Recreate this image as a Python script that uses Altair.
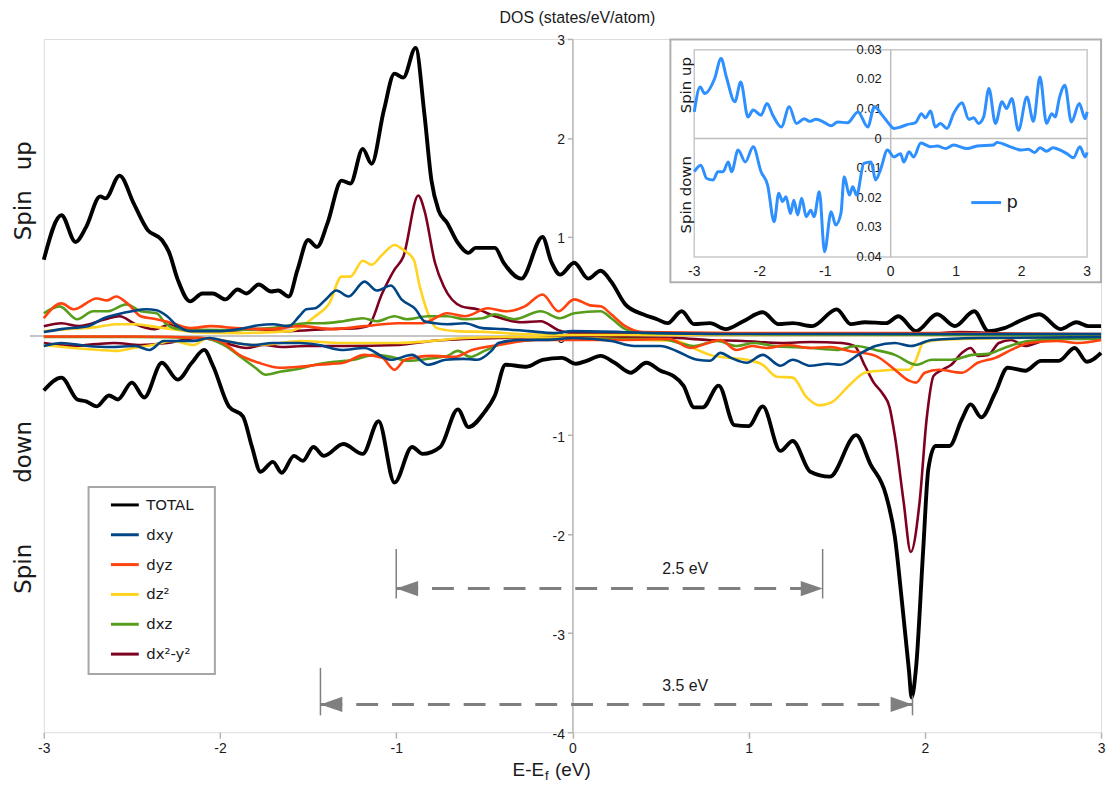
import altair as alt
import pandas as pd

# ---------------- main DOS data (x in eV, y in states/eV/atom) ----------------
TOTAL_UP = [(-3.00,0.77),(-2.90,1.22),(-2.82,0.95),(-2.76,1.10),(-2.68,1.41),(-2.65,1.39),(-2.57,1.62),(-2.49,1.34),
            (-2.41,1.07),(-2.33,0.97),(-2.29,0.85),(-2.24,0.57),(-2.17,0.35),(-2.10,0.43),(-2.04,0.43),(-1.97,0.37),
            (-1.90,0.47),(-1.85,0.43),(-1.78,0.52),(-1.71,0.45),(-1.67,0.46),(-1.61,0.40),(-1.56,0.67),(-1.50,0.97),
            (-1.45,0.90),(-1.39,1.14),(-1.31,1.57),(-1.26,1.54),(-1.19,1.89),(-1.14,1.74),(-1.07,2.28),(-1.01,2.65),
            (-0.96,2.61),(-0.89,2.91),(-0.84,2.24),(-0.80,1.57),(-0.76,1.27),(-0.71,1.14),(-0.65,0.94),(-0.59,0.84),
            (-0.55,0.89),(-0.44,0.89),(-0.39,0.74),(-0.29,0.58),(-0.17,1.00),(-0.12,0.75),(-0.07,0.62),(0.01,0.74),
            (0.09,0.58),(0.16,0.66),(0.22,0.55),(0.30,0.32),(0.40,0.22),(0.48,0.17),(0.54,0.13),(0.62,0.25),(0.69,0.12),
            (0.78,0.13),(0.87,0.07),(0.97,0.15),(1.08,0.24),(1.17,0.12),(1.25,0.13),(1.36,0.10),(1.50,0.27),(1.58,0.12),
            (1.66,0.14),(1.78,0.13),(1.85,0.20),(1.95,0.05),(2.07,0.22),(2.17,0.10),(2.28,0.25),(2.36,0.05),(2.45,0.08),
            (2.56,0.17),(2.65,0.22),(2.77,0.07),(2.86,0.14),(2.93,0.10),(3.00,0.10)]
TOTAL_DN = [(-3.00,-0.55),(-2.90,-0.42),(-2.81,-0.64),(-2.76,-0.66),(-2.70,-0.71),(-2.63,-0.60),(-2.58,-0.64),(-2.50,-0.47),
            (-2.43,-0.62),(-2.33,-0.27),(-2.24,-0.44),(-2.16,-0.27),(-2.09,-0.14),(-2.04,-0.30),(-1.95,-0.71),(-1.87,-0.81),
            (-1.82,-1.11),(-1.77,-1.37),(-1.70,-1.27),(-1.65,-1.38),(-1.58,-1.21),(-1.53,-1.26),(-1.47,-1.12),(-1.41,-1.21),
            (-1.30,-1.09),(-1.19,-1.19),(-1.10,-0.86),(-1.01,-1.48),(-0.91,-1.12),(-0.85,-1.19),(-0.75,-1.12),(-0.65,-0.74),
            (-0.59,-0.92),(-0.50,-0.77),(-0.44,-0.60),(-0.38,-0.29),(-0.26,-0.31),(-0.17,-0.24),(-0.06,-0.22),(0.02,-0.28),
            (0.08,-0.25),(0.16,-0.20),(0.24,-0.27),(0.33,-0.37),(0.42,-0.27),(0.50,-0.35),(0.57,-0.40),(0.63,-0.50),
            (0.69,-0.72),(0.74,-0.72),(0.83,-0.50),(0.92,-0.90),(1.00,-0.91),(1.08,-0.71),(1.18,-1.16),(1.25,-1.06),
            (1.35,-1.37),(1.46,-1.42),(1.61,-1.00),(1.69,-1.29),(1.78,-1.61),(1.83,-2.03),(1.87,-2.68),(1.91,-3.38),
            (1.925,-3.65),(1.95,-3.35),(1.99,-2.18),(2.02,-1.34),(2.06,-1.11),(2.14,-1.11),(2.21,-0.84),(2.26,-0.69),
            (2.32,-0.82),(2.40,-0.57),(2.47,-0.32),(2.57,-0.35),(2.66,-0.25),(2.76,-0.25),(2.85,-0.12),(2.92,-0.26),(3.00,-0.17)]
DXY_UP = [(-3.00,0.04),(-2.90,0.07),(-2.75,0.10),(-2.66,0.18),(-2.58,0.22),(-2.50,0.25),(-2.42,0.27),(-2.36,0.26),
          (-2.30,0.20),(-2.24,0.10),(-2.17,0.05),(-2.00,0.05),(-1.86,0.08),(-1.78,0.11),(-1.70,0.12),(-1.61,0.10),
          (-1.55,0.20),(-1.51,0.27),(-1.46,0.28),(-1.40,0.37),(-1.34,0.46),(-1.27,0.40),(-1.18,0.55),(-1.11,0.46),
          (-1.03,0.51),(-0.97,0.37),(-0.89,0.27),(-0.84,0.15),(-0.78,0.13),(-0.71,0.12),(-0.61,0.13),(-0.51,0.08),
          (-0.39,0.07),(-0.25,0.05),(-0.10,0.03),(0.00,0.05),(0.50,0.03),(1.00,0.02),(1.50,0.02),(2.00,0.02),(3.00,0.02)]
DXY_DN = [(-3.00,-0.10),(-2.90,-0.07),(-2.75,-0.10),(-2.62,-0.11),(-2.48,-0.10),(-2.40,-0.14),(-2.32,-0.05),(-2.15,-0.05),
          (-2.06,-0.02),(-1.97,-0.05),(-1.81,-0.09),(-1.70,-0.07),(-1.55,-0.07),(-1.44,-0.09),(-1.31,-0.14),(-1.18,-0.12),
          (-1.03,-0.24),(-0.91,-0.19),(-0.82,-0.29),(-0.72,-0.24),(-0.62,-0.23),(-0.54,-0.24),(-0.46,-0.15),(-0.42,-0.07),
          (-0.30,-0.04),(-0.15,-0.04),(0.00,-0.02),(0.22,-0.05),(0.35,-0.10),(0.50,-0.10),(0.59,-0.15),(0.71,-0.24),
          (0.78,-0.25),(0.84,-0.17),(0.90,-0.22),(0.99,-0.27),(1.08,-0.19),(1.18,-0.30),(1.25,-0.24),(1.35,-0.30),
          (1.45,-0.28),(1.52,-0.29),(1.63,-0.18),(1.72,-0.10),(1.83,-0.07),(1.92,-0.10),(2.04,-0.04),(2.30,-0.02),(3.00,-0.01)]
DYZ_UP = [(-3.00,0.18),(-2.90,0.33),(-2.83,0.27),(-2.70,0.38),(-2.64,0.36),(-2.59,0.40),(-2.52,0.32),(-2.45,0.20),
          (-2.36,0.17),(-2.27,0.13),(-2.17,0.08),(-2.05,0.10),(-1.91,0.08),(-1.71,0.07),(-1.55,0.10),(-1.36,0.07),
          (-1.18,0.10),(-0.99,0.13),(-0.85,0.13),(-0.71,0.23),(-0.61,0.20),(-0.48,0.28),(-0.38,0.25),(-0.27,0.30),
          (-0.17,0.42),(-0.08,0.25),(0.01,0.37),(0.10,0.31),(0.16,0.30),(0.22,0.22),(0.30,0.10),(0.40,0.04),
          (1.00,0.03),(2.00,0.03),(3.00,0.02)]
DYZ_DN = [(-3.00,-0.005),(-2.50,-0.005),(-2.10,-0.02),(-2.00,-0.05),(-1.89,-0.19),(-1.78,-0.27),(-1.66,-0.32),(-1.55,-0.31),
          (-1.44,-0.29),(-1.30,-0.27),(-1.18,-0.19),(-1.08,-0.22),(-1.01,-0.34),(-0.95,-0.24),(-0.80,-0.20),(-0.67,-0.21),
          (-0.57,-0.14),(-0.42,-0.09),(-0.20,-0.04),(0.00,-0.04),(0.28,-0.04),(0.55,-0.03),(0.67,-0.12),(0.77,-0.07),
          (0.84,-0.04),(0.93,-0.14),(1.02,-0.10),(1.10,-0.12),(1.22,-0.09),(1.35,-0.12),(1.46,-0.11),(1.57,-0.15),
          (1.72,-0.20),(1.83,-0.34),(1.91,-0.45),(1.95,-0.47),(2.00,-0.37),(2.08,-0.34),(2.21,-0.37),(2.30,-0.27),
          (2.40,-0.22),(2.49,-0.14),(2.59,-0.07),(2.75,-0.05),(2.87,-0.07),(3.00,-0.04)]
DZ2_UP = [(-3.00,0.05),(-2.86,0.07),(-2.70,0.09),(-2.59,0.12),(-2.48,0.12),(-2.36,0.09),(-2.27,0.07),(-2.15,0.04),
          (-1.90,0.03),(-1.61,0.05),(-1.46,0.20),(-1.38,0.33),(-1.31,0.60),(-1.26,0.60),(-1.19,0.76),(-1.14,0.72),
          (-1.08,0.82),(-1.01,0.92),(-0.96,0.87),(-0.90,0.77),(-0.87,0.53),(-0.82,0.23),(-0.77,0.08),(-0.66,0.05),
          (-0.47,0.04),(-0.30,0.02),(0.00,0.01),(1.00,0.01),(2.00,0.01),(3.00,0.01)]
DZ2_DN = [(-3.00,-0.09),(-2.83,-0.12),(-2.68,-0.14),(-2.59,-0.15),(-2.49,-0.12),(-2.38,-0.09),(-2.27,-0.05),(-2.15,-0.09),
          (-2.07,-0.02),(-1.97,-0.05),(-1.81,-0.09),(-1.70,-0.08),(-1.55,-0.05),(-1.30,-0.07),(-0.99,-0.07),(-0.80,-0.05),
          (-0.61,-0.02),(-0.30,-0.01),(0.00,-0.02),(0.40,-0.04),(0.59,-0.05),(0.71,-0.14),(0.78,-0.19),(0.89,-0.22),
          (0.99,-0.24),(1.08,-0.29),(1.16,-0.41),(1.25,-0.42),(1.33,-0.62),(1.40,-0.70),(1.47,-0.67),(1.57,-0.50),
          (1.66,-0.37),(1.75,-0.35),(1.83,-0.34),(1.91,-0.34),(1.95,-0.24),(1.99,-0.07),(2.08,-0.04),(2.50,-0.02),(3.00,-0.01)]
DXZ_UP = [(-3.00,0.23),(-2.91,0.30),(-2.81,0.17),(-2.72,0.25),(-2.64,0.25),(-2.53,0.32),(-2.45,0.25),(-2.36,0.23),
          (-2.31,0.13),(-2.23,0.07),(-2.00,0.06),(-1.71,0.08),(-1.51,0.13),(-1.42,0.13),(-1.30,0.15),(-1.19,0.18),
          (-1.11,0.15),(-1.01,0.20),(-0.94,0.17),(-0.82,0.20),(-0.71,0.20),(-0.61,0.17),(-0.51,0.18),(-0.44,0.22),
          (-0.33,0.17),(-0.18,0.25),(-0.07,0.18),(0.01,0.23),(0.16,0.25),(0.22,0.18),(0.30,0.07),(0.40,0.03),
          (1.00,0.02),(3.00,0.01)]
DXZ_DN = [(-3.00,-0.01),(-2.50,-0.01),(-2.10,-0.02),(-1.98,-0.09),(-1.89,-0.20),(-1.80,-0.32),(-1.74,-0.39),(-1.66,-0.36),
          (-1.55,-0.33),(-1.46,-0.29),(-1.35,-0.26),(-1.24,-0.24),(-1.13,-0.19),(-1.03,-0.21),(-0.93,-0.25),(-0.82,-0.23),
          (-0.71,-0.20),(-0.65,-0.15),(-0.58,-0.21),(-0.50,-0.15),(-0.42,-0.09),(-0.30,-0.05),(-0.10,-0.03),(0.20,-0.03),
          (0.50,-0.03),(0.69,-0.10),(0.82,-0.05),(0.93,-0.10),(1.03,-0.07),(1.14,-0.10),(1.35,-0.12),(1.50,-0.14),
          (1.61,-0.10),(1.72,-0.14),(1.83,-0.19),(1.95,-0.29),(2.04,-0.24),(2.15,-0.24),(2.27,-0.19),(2.36,-0.18),
          (2.45,-0.12),(2.59,-0.05),(2.80,-0.03),(3.00,-0.03)]
DX2Y2_UP = [(-3.00,0.10),(-2.90,0.13),(-2.80,0.10),(-2.65,0.17),(-2.57,0.20),(-2.48,0.12),(-2.37,0.07),(-2.28,0.12),
            (-2.21,0.06),(-2.00,0.05),(-1.80,0.07),(-1.61,0.05),(-1.40,0.07),(-1.22,0.08),(-1.16,0.10),(-1.08,0.43),
            (-1.01,0.67),(-0.96,0.80),(-0.875,1.42),(-0.84,1.27),(-0.78,0.74),(-0.73,0.50),(-0.63,0.30),(-0.54,0.27),
            (-0.44,0.20),(-0.29,0.14),(-0.18,0.15),(-0.08,0.06),(0.00,0.03),(0.50,0.02),(1.00,0.02),(1.50,0.02),
            (2.00,0.02),(2.20,0.04),(2.50,0.02),(3.00,0.01)]
DX2Y2_DN = [(-3.00,-0.07),(-2.83,-0.10),(-2.70,-0.08),(-2.60,-0.07),(-2.45,-0.09),(-2.30,-0.07),(-2.13,-0.02),(-2.06,-0.03),
            (-1.97,-0.07),(-1.85,-0.12),(-1.75,-0.09),(-1.65,-0.11),(-1.51,-0.10),(-1.30,-0.10),(-0.99,-0.09),(-0.80,-0.05),
            (-0.42,-0.02),(0.00,-0.01),(0.59,-0.02),(0.77,-0.04),(0.97,-0.05),(1.19,-0.07),(1.35,-0.06),(1.53,-0.07),
            (1.60,-0.10),(1.66,-0.30),(1.71,-0.47),(1.76,-0.58),(1.80,-0.72),(1.83,-1.01),(1.88,-1.68),(1.92,-2.18),
            (1.97,-1.68),(2.01,-0.84),(2.05,-0.40),(2.10,-0.34),(2.15,-0.29),(2.21,-0.17),(2.26,-0.12),(2.30,-0.20),
            (2.36,-0.19),(2.42,-0.07),(2.49,-0.04),(2.57,-0.10),(2.65,-0.06),(2.77,-0.02),(3.00,-0.01)]

# ---------------- inset: p orbital ----------------
P_UP = [(-3.00,0.0090),(-2.91,0.0174),(-2.84,0.0152),(-2.69,0.0202),(-2.59,0.0270),(-2.51,0.0208),(-2.38,0.0124),
        (-2.29,0.0191),(-2.18,0.0073),(-2.10,0.0096),(-1.98,0.0079),(-1.89,0.0118),(-1.80,0.0079),(-1.67,0.0039),
        (-1.55,0.0107),(-1.44,0.0051),(-1.32,0.0067),(-1.24,0.0058),(-1.14,0.0065),(-1.01,0.0054),(-0.91,0.0043),
        (-0.81,0.0056),(-0.66,0.0053),(-0.50,0.0090),(-0.35,0.0039),(-0.25,0.0107),(-0.13,0.0079),(-0.03,0.0051),
        (0.05,0.0034),(0.15,0.0039),(0.25,0.0047),(0.38,0.0054),(0.47,0.0084),(0.53,0.0070),(0.61,0.0093),(0.68,0.0039),
        (0.76,0.0051),(0.86,0.0034),(0.96,0.0084),(1.09,0.0121),(1.19,0.0065),(1.27,0.0070),(1.34,0.0051),(1.42,0.0073),
        (1.50,0.0169),(1.60,0.0051),(1.70,0.0124),(1.77,0.0101),(1.85,0.0135),(1.95,0.0028),(2.08,0.0140),(2.18,0.0058),
        (2.28,0.0208),(2.38,0.0051),(2.46,0.0084),(2.51,0.0073),(2.58,0.0140),(2.66,0.0180),(2.76,0.0056),(2.88,0.0118),
        (2.97,0.0067),(3.00,0.0090)]
P_DN = [(-3.00,-0.0112),(-2.90,-0.0090),(-2.81,-0.0135),(-2.71,-0.0140),(-2.64,-0.0112),(-2.56,-0.0112),(-2.48,-0.0079),
        (-2.43,-0.0112),(-2.33,-0.0039),(-2.22,-0.0079),(-2.10,-0.0028),(-1.98,-0.0112),(-1.88,-0.0157),(-1.78,-0.0281),
        (-1.71,-0.0185),(-1.65,-0.0213),(-1.60,-0.0197),(-1.53,-0.0253),(-1.48,-0.0208),(-1.42,-0.0258),(-1.36,-0.0202),
        (-1.29,-0.0264),(-1.22,-0.0242),(-1.17,-0.0264),(-1.09,-0.0180),(-1.01,-0.0382),(-0.91,-0.0247),(-0.84,-0.0292),
        (-0.76,-0.0253),(-0.71,-0.0129),(-0.63,-0.0191),(-0.58,-0.0163),(-0.52,-0.0191),(-0.41,-0.0084),(-0.30,-0.0079),
        (-0.23,-0.0140),(-0.15,-0.0101),(-0.05,-0.0039),(0.05,-0.0062),(0.15,-0.0051),(0.20,-0.0079),(0.28,-0.0045),
        (0.35,-0.0062),(0.46,-0.0015),(0.61,-0.0028),(0.71,-0.0025),(0.84,-0.0034),(0.96,-0.0022),(1.17,-0.0034),
        (1.32,-0.0025),(1.57,-0.0022),(1.62,-0.0013),(1.83,-0.0028),(2.00,-0.0039),(2.10,-0.0036),(2.20,-0.0047),
        (2.28,-0.0031),(2.38,-0.0043),(2.48,-0.0031),(2.59,-0.0039),(2.69,-0.0051),(2.79,-0.0065),(2.89,-0.0028),
        (2.97,-0.0062),(3.00,-0.0047)]

ORBITALS = ["TOTAL", "dxy", "dyz", "dz²", "dxz", "dx²-y²"]
COLORS = ["#000000", "#004586", "#ff420e", "#ffd320", "#579d1c", "#7e0021"]
DRAW_ORDER = ["TOTAL", "dx²-y²", "dz²", "dxz", "dyz", "dxy"]
SERIES = [("TOTAL", "up", TOTAL_UP), ("TOTAL", "down", TOTAL_DN), ("dxy", "up", DXY_UP), ("dxy", "down", DXY_DN),
          ("dyz", "up", DYZ_UP), ("dyz", "down", DYZ_DN), ("dz²", "up", DZ2_UP), ("dz²", "down", DZ2_DN),
          ("dxz", "up", DXZ_UP), ("dxz", "down", DXZ_DN), ("dx²-y²", "up", DX2Y2_UP), ("dx²-y²", "down", DX2Y2_DN)]

XTICKS = [-3, -2, -1, 0, 1, 2, 3]
YTICKS = [-4, -3, -2, -1, 0, 1, 2, 3]

# gap arrows
ARROW_Y = [-2.55, -3.72]
ARROW_X0 = [-1.00, -1.43]
ARROW_X1 = [1.42, 1.93]
BAR_L_Y0 = [-2.15, -3.35]
BAR_R_Y0 = [-2.15, -3.63]
BAR_Y1 = [-2.65, -3.83]
ARROW_TEXT = ["2.5 eV", "3.5 eV"]
ARROW_TEXT_X = [0.64, 0.64]
ARROW_TEXT_Y = [-2.35, -3.53]

INSET_XTICKS = [-3, -2, -1, 0, 1, 2, 3]
INSET_YTICKS = [0.03, 0.02, 0.01, 0.0, -0.01, -0.02, -0.03, -0.04]
INSET_YLABELS = ["0.03", "0.02", "0.01", "0", "0.01", "0.02", "0.03", "0.04"]

rows = []
for orb, spin, pts in SERIES:
    for x, y in pts:
        rows.append({"orb": orb, "spin": spin, "x": x, "y": y})
df = pd.DataFrame(rows)

prow = []
for spin, pts in [("up", P_UP), ("down", P_DN)]:
    for x, y in pts:
        prow.append({"orb": "p", "spin": spin, "x": x, "y": y})
dfp = pd.DataFrame(prow)

W, H = 1063, 697
GRAY = "#b3b3b3"
TXT = "#1a1a1a"

xs = alt.Scale(domain=[-3, 3], nice=False, zero=False)
ys = alt.Scale(domain=[-4, 3], nice=False, zero=False)
x_axis = alt.Axis(values=XTICKS, labelExpr="'' + datum.value", labelFlush=False, domain=False, grid=False,
                  tickSize=6, tickColor=GRAY, tickWidth=1.5, labelFontSize=14, labelFont="Liberation Sans",
                  labelColor=TXT, labelPadding=3, title=None)
y_axis = alt.Axis(values=YTICKS, labelExpr="'' + datum.value", orient="left", offset=-W / 2, grid=False,
                  domainColor=GRAY, domainWidth=1.5, tickSize=5, tickColor=GRAY, tickWidth=1.5,
                  labelFontSize=14, labelFont="Liberation Sans", labelColor=TXT, labelPadding=3, labelOffset=2,
                  title=None)


def X(f):
    return alt.X(f, type="quantitative", scale=xs, axis=x_axis)


def Y(f):
    return alt.Y(f, type="quantitative", scale=ys, axis=y_axis)


color = alt.Color("orb:N", scale=alt.Scale(domain=ORBITALS, range=COLORS),
                  legend=alt.Legend(orient="none", legendX=66, legendY=453, symbolType="stroke", symbolSize=784,
                                    symbolStrokeWidth=3, labelFontSize=15, labelFont="DejaVu Sans", labelColor=TXT,
                                    labelOffset=6, rowPadding=6, padding=0, title=None))

one = pd.DataFrame({"a": [0]})
zero_df = pd.DataFrame({"y": [0.0]})
zero_line = alt.Chart(zero_df).mark_rule(color=GRAY, strokeWidth=1.5).encode(
    x=alt.value(-14), x2=alt.value(W), y=Y("y"))

layers = [zero_line]
for orb in DRAW_ORDER:
    layers.append(
        alt.Chart(df).transform_filter(alt.datum.orb == orb).mark_line(
            interpolate="monotone", strokeWidth=3.9 if orb == "TOTAL" else 2.6, strokeJoin="round"
        ).encode(x=X("x"), y=Y("y"), color=color, detail="spin:N", order="x:Q")
    )

arr = pd.DataFrame({"y": ARROW_Y, "x0": ARROW_X0, "x1": ARROW_X1, "yl0": BAR_L_Y0, "yr0": BAR_R_Y0,
                    "y1": BAR_Y1, "t": ARROW_TEXT, "tx": ARROW_TEXT_X, "ty": ARROW_TEXT_Y})
AGRAY = "#7f7f7f"
layers.append(alt.Chart(arr).mark_rule(color=AGRAY, strokeWidth=3, strokeDash=[22, 14]).encode(
    x=X("x0"), x2="x1:Q", y=Y("y")))
layers.append(alt.Chart(arr).mark_rule(color=AGRAY, strokeWidth=1.5).encode(x=X("x0"), y=Y("yl0"), y2="y1:Q"))
layers.append(alt.Chart(arr).mark_rule(color=AGRAY, strokeWidth=1.5).encode(x=X("x1"), y=Y("yr0"), y2="y1:Q"))
layers.append(alt.Chart(arr).mark_point(shape="M 0 0 L 2 -0.7 L 2 0.7 Z", size=484, filled=True, opacity=1,
                                        color=AGRAY).encode(x=X("x0"), y=Y("y")))
layers.append(alt.Chart(arr).mark_point(shape="M 0 0 L -2 -0.7 L -2 0.7 Z", size=484, filled=True, opacity=1,
                                        color=AGRAY).encode(x=X("x1"), y=Y("y")))
layers.append(alt.Chart(arr).mark_text(fontSize=16, font="Liberation Sans", color=TXT).encode(
    x=X("tx"), y=Y("ty"), text="t:N"))

# spin labels (main)
spin_df = pd.DataFrame({"t": ["Spin", "up", "Spin", "down"], "y": [1.22, 1.82, -2.35, -1.17]})
layers.append(alt.Chart(spin_df).mark_text(fontSize=23, font="DejaVu Sans", angle=270, color=TXT,
                                           baseline="middle").encode(x=alt.value(-20), y=Y("y"), text="t:N"))

# legend box
layers.append(alt.Chart(one).mark_rect(fill="white", stroke="#a6a6a6", strokeWidth=2).encode(
    x=alt.value(45), x2=alt.value(172), y=alt.value(450.5), y2=alt.value(638.5)))

# x-axis title with subscript
layers.append(alt.Chart(one).mark_text(text="E-E", fontSize=19, font="Liberation Sans", color=TXT, align="right",
                                       baseline="middle").encode(x=alt.value(503), y=alt.value(735.5)))
layers.append(alt.Chart(one).mark_text(text="f", fontSize=13, font="Liberation Sans", color=TXT, align="left",
                                       baseline="middle").encode(x=alt.value(504), y=alt.value(741)))
layers.append(alt.Chart(one).mark_text(text="(eV)", fontSize=19, font="Liberation Sans", color=TXT, align="left",
                                       baseline="middle").encode(x=alt.value(514), y=alt.value(735.5)))

main = alt.layer(*layers)

# ---------------- inset ----------------
xi = alt.Scale(domain=[-3, 3], range=[654, 1049], nice=False, zero=False)
yi = alt.Scale(domain=[-0.04, 0.03], range=[219.2, 10.8], nice=False, zero=False)


def XI(f):
    return alt.X(f, type="quantitative", scale=xi, axis=None)


def YI(f):
    return alt.Y(f, type="quantitative", scale=yi, axis=None)


ins = []
ins.append(alt.Chart(one).mark_rect(fill="white", stroke="#b0b0b0", strokeWidth=2).encode(
    x=alt.value(630), x2=alt.value(1063), y=alt.value(0.5), y2=alt.value(244.5)))
frame_df = pd.DataFrame({"x0": [INSET_XTICKS[0]], "x1": [INSET_XTICKS[-1]],
                         "y0": [INSET_YTICKS[-1]], "y1": [INSET_YTICKS[0]]})
ins.append(alt.Chart(frame_df).mark_rect(fillOpacity=0, stroke="#c8c8c8", strokeWidth=1.5).encode(
    x=XI("x0"), x2="x1:Q", y=YI("y0"), y2="y1:Q"))
ins.append(alt.Chart(frame_df).mark_rule(color="#bdbdbd", strokeWidth=1.5).encode(
    x=XI("x0"), x2="x1:Q", y=YI("zero:Q")).transform_calculate(zero="0"))
ins.append(alt.Chart(frame_df).mark_rule(color="#bdbdbd", strokeWidth=1.5).encode(
    x=XI("zero:Q"), y=YI("y0"), y2="y1:Q").transform_calculate(zero="0"))
xt_df = pd.DataFrame({"x": INSET_XTICKS, "y": [INSET_YTICKS[-1]] * len(INSET_XTICKS),
                      "t": [str(v) for v in INSET_XTICKS]})
ins.append(alt.Chart(xt_df).mark_text(fontSize=14, font="Liberation Sans", color=TXT, dy=15).encode(
    x=XI("x"), y=YI("y"), text="t:N"))
yt_df = pd.DataFrame({"x": [0] * len(INSET_YTICKS), "y": INSET_YTICKS, "t": INSET_YLABELS})
ins.append(alt.Chart(yt_df).mark_text(fontSize=13, font="Liberation Sans", color=TXT, align="right", dx=-9).encode(
    x=XI("x"), y=YI("y"), text="t:N"))
ins.append(alt.Chart(dfp).mark_line(interpolate="monotone", strokeWidth=3).encode(
    x=XI("x"), y=YI("y"), detail="spin:N", order="x:Q",
    stroke=alt.Stroke("orb:N", scale=alt.Scale(domain=["p"], range=["#2e8fff"]),
                      legend=alt.Legend(orient="none", legendX=931, legendY=148, symbolType="stroke",
                                        symbolSize=900, symbolStrokeWidth=3, labelFontSize=18,
                                        labelFont="DejaVu Sans", labelColor=TXT, labelOffset=4, padding=0,
                                        title=None))))
ispin = pd.DataFrame({"t": ["Spin up", "Spin down"], "y": [0.018, -0.019]})
ins.append(alt.Chart(ispin).mark_text(fontSize=15, font="DejaVu Sans", angle=270, color=TXT).encode(
    x=alt.value(646), y=YI("y"), text="t:N"))

inset = alt.layer(*ins)

chart = alt.layer(main, inset).resolve_scale(x="independent", y="independent").properties(
    width=W, height=H,
    title=alt.TitleParams(text="DOS (states/eV/atom)", fontSize=16, font="Liberation Sans", fontWeight="normal",
                          anchor="middle", color=TXT, offset=8, dx=5),
    padding={"left": 4, "top": 0, "right": 5, "bottom": 5},
).configure_view(stroke=GRAY, strokeWidth=2).configure(background="white")

chart.save("out.html", embed_options={"renderer": "svg", "actions": False})
